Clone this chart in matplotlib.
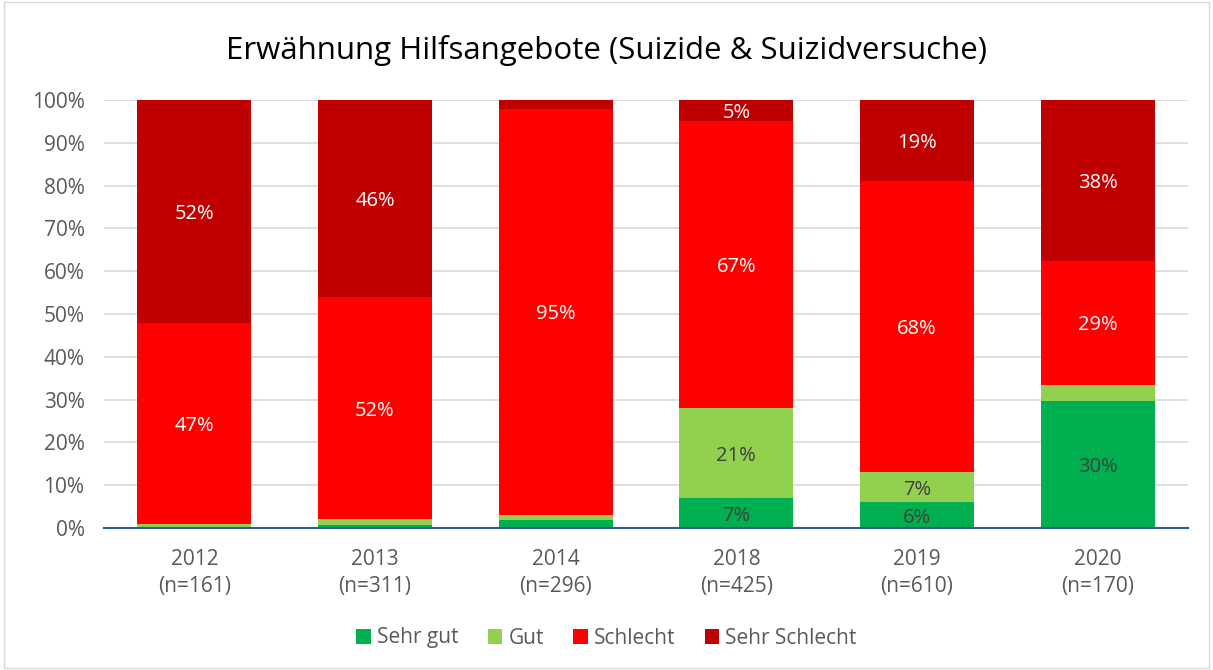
import matplotlib
matplotlib.use("Agg")
import matplotlib.pyplot as plt
import numpy as np

years = ["2012", "2013", "2014", "2018", "2019", "2020"]
counts = [161, 311, 296, 425, 610, 170]
sehr_gut = [0.0, 0.8, 1.8, 7.0, 6.0, 29.6]
gut = [1.0, 1.2, 1.2, 21.0, 7.0, 3.9]
schlecht = [47.0, 52.0, 95.0, 67.0, 68.0, 28.9]
sehr_schlecht = [52.0, 46.0, 2.0, 5.0, 19.0, 37.6]

series = [
    ("Sehr gut", sehr_gut, "#00b050", "#404040"),
    ("Gut", gut, "#92d050", "#404040"),
    ("Schlecht", schlecht, "#ff0000", "white"),
    ("Sehr Schlecht", sehr_schlecht, "#c00000", "white"),
]

plt.rcParams['font.family'] = ['Open Sans', 'DejaVu Sans']

fig = plt.figure(figsize=(12.13, 6.70), dpi=100)
ax = fig.add_axes([104/1213, 1 - 528/670, 1084/1213, 428/670])

x = np.arange(len(years))
bottom = np.zeros(len(years))
for name, vals, color, tcol in series:
    vals = np.array(vals)
    ax.bar(x, vals, bottom=bottom, width=0.63, color=color, label=name, zorder=3)
    for xi, v, b in zip(x, vals, bottom):
        if v >= 5:
            ax.text(xi, b + v / 2, f"{v:.0f}%", ha="center", va="center_baseline",
                    color=tcol, fontsize=14.5, zorder=4)
    bottom += vals

ax.set_xlim(-0.5, len(years) - 0.5)
ax.set_ylim(0, 100)
ax.set_yticks(np.arange(0, 101, 10))
ax.set_yticklabels([f"{v}%" for v in range(0, 101, 10)])
ax.set_xticks(x)
ax.set_xticklabels([f"{y}\n(n={n})" for y, n in zip(years, counts)], linespacing=1.4)
ax.tick_params(axis="y", length=0, labelsize=15, colors="#595959", pad=14)
ax.tick_params(axis="x", length=0, labelsize=15, colors="#595959", pad=15)
ax.grid(axis="y", color="#d9d9d9", linewidth=1.2, zorder=0)
for s in ["top", "right", "left"]:
    ax.spines[s].set_visible(False)
ax.spines["bottom"].set_color("#2f5f8f")
ax.spines["bottom"].set_linewidth(1.5)
ax.spines["bottom"].set_zorder(5)

fig.text(0.5, 1 - 50/670, "Erwähnung Hilfsangebote (Suizide & Suizidversuche)",
         ha="center", va="center", fontsize=22.5, color="#000000")

leg = fig.legend(loc="center", bbox_to_anchor=(0.5, 1 - 638/670), ncol=4,
                 frameon=False, fontsize=15, handlelength=0.7, handleheight=0.7,
                 handletextpad=0.3, columnspacing=1.4)
for t in leg.get_texts():
    t.set_color("#595959")

fig.patches.append(plt.Rectangle((0.003, 0.003), 0.994, 0.994, transform=fig.transFigure,
                                 fill=False, edgecolor="#d9d9d9", linewidth=1))

fig.savefig("out.png", dpi=100)
